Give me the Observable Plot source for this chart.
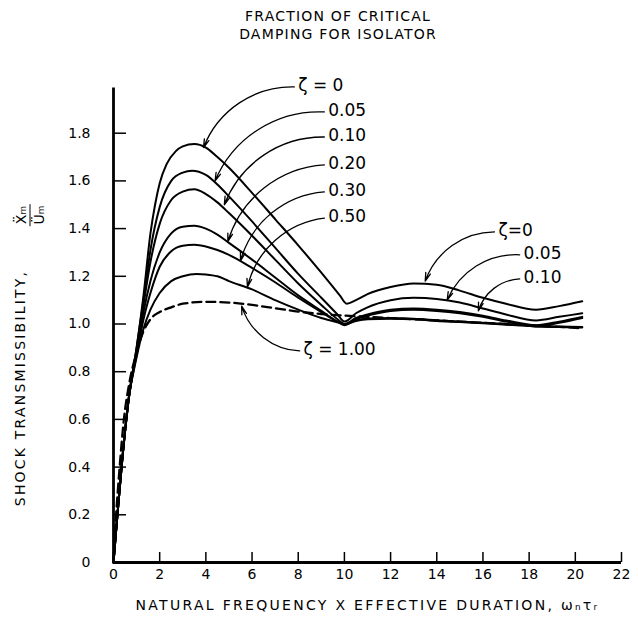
<!DOCTYPE html>
<html><head><meta charset="utf-8">
<script src="https://cdn.jsdelivr.net/npm/d3@7"></script>
<script src="https://cdn.jsdelivr.net/npm/@observablehq/plot@0.6"></script>
<style>
body{margin:0;background:#fff;}
#wrap{width:638px;height:618px;position:relative;overflow:hidden;background:#fff;font-family:"DejaVu Sans";color:#000;}
#title{position:absolute;left:0;top:7px;width:676px;text-align:center;font-size:14px;line-height:18px;letter-spacing:1.2px;}
#chart{position:absolute;left:0;top:45px;}
#ylab{position:absolute;left:20px;top:388px;transform:translate(-50%,-50%) rotate(-90deg);white-space:nowrap;font-size:14px;letter-spacing:2.2px;}
#yfrac{position:absolute;left:30px;top:215px;transform:translate(-50%,-50%) rotate(-90deg);white-space:nowrap;font-size:14px;text-align:center;line-height:15px;}
#yfrac .num{border-bottom:1.3px solid #000;padding:0 2px 1px 2px;}
#yfrac .den{padding-top:1px;}
</style></head><body>
<div id="wrap">
  <div id="title">FRACTION OF CRITICAL<br>DAMPING FOR ISOLATOR</div>
  <div id="chart"></div>
  <div id="ylab"></div>
  <div id="yfrac"><div class="num"></div><div class="den"></div></div>
</div>
<script>
// ---- data ----
const xTicks = [0, 2, 4, 6, 8, 10, 12, 14, 16, 18, 20, 22];
const yTicks = [0, 0.2, 0.4, 0.6, 0.8, 1.0, 1.2, 1.4, 1.6, 1.8];

const zetaNames = ["0", "0.05", "0.10", "0.20", "0.30", "0.50"];

const x_z0  = [0, 0.5, 0.65, 1.0, 1.3, 1.6, 1.8, 2.0, 2.3, 2.7, 3.0, 3.5, 4.0, 4.5, 5, 6, 7, 8, 9, 9.8, 10.1, 10.5, 11, 12, 13, 14, 15, 16, 17, 18.3, 19.3, 20.3];
const y_z0  = [0, 0.55, 0.68, 0.90, 1.12, 1.38, 1.50, 1.59, 1.67, 1.725, 1.745, 1.755, 1.74, 1.70, 1.655, 1.55, 1.44, 1.33, 1.215, 1.12, 1.085, 1.10, 1.125, 1.155, 1.17, 1.165, 1.14, 1.11, 1.085, 1.06, 1.075, 1.095];

const x_z05 = [0, 0.5, 0.65, 1.0, 1.3, 1.6, 2.0, 2.5, 3.0, 3.4, 4.0, 4.5, 5, 6, 7, 8, 9, 9.7, 10, 10.5, 11, 12, 13, 14, 15, 16, 17, 18.3, 19.3, 20.3];
const y_z05 = [0, 0.55, 0.68, 0.90, 1.10, 1.31, 1.49, 1.60, 1.635, 1.643, 1.625, 1.585, 1.535, 1.43, 1.32, 1.21, 1.11, 1.04, 1.01, 1.045, 1.07, 1.10, 1.11, 1.105, 1.09, 1.065, 1.04, 1.015, 1.03, 1.045];

const x_z10 = [0, 0.5, 0.65, 1.0, 1.3, 1.6, 2.0, 2.5, 3.0, 3.5, 4.0, 4.5, 5, 6, 7, 8, 9, 9.7, 10, 10.5, 11, 12, 13, 14, 15, 16, 17, 18.3, 19.3, 20.3];
const y_z10 = [0, 0.55, 0.68, 0.89, 1.08, 1.26, 1.42, 1.52, 1.555, 1.565, 1.545, 1.51, 1.465, 1.37, 1.27, 1.17, 1.08, 1.02, 1.0, 1.025, 1.04, 1.06, 1.065, 1.06, 1.05, 1.035, 1.015, 0.995, 1.01, 1.03];

const x_z20 = [0, 0.5, 0.65, 1.0, 1.3, 1.6, 2.0, 2.5, 3.0, 3.5, 4.0, 4.5, 5, 6, 7, 8, 9, 9.7, 10, 10.5, 11, 12, 13, 14, 15, 16, 17, 18.3, 19.3, 20.3];
const y_z20 = [0, 0.55, 0.68, 0.88, 1.05, 1.18, 1.30, 1.38, 1.408, 1.412, 1.40, 1.375, 1.34, 1.27, 1.195, 1.12, 1.055, 1.01, 0.995, 1.02, 1.035, 1.055, 1.06, 1.055, 1.045, 1.03, 1.01, 0.99, 1.005, 1.025];

const x_z30 = [0, 0.5, 0.65, 1.0, 1.3, 1.6, 2.0, 2.5, 3.0, 3.5, 4.0, 4.5, 5, 6, 7, 8, 9, 9.7, 10, 10.5, 11, 12, 13, 14, 15, 16, 17, 18.3, 19.3, 20.3];
const y_z30 = [0, 0.55, 0.68, 0.87, 1.02, 1.13, 1.24, 1.305, 1.328, 1.332, 1.325, 1.31, 1.29, 1.235, 1.175, 1.11, 1.05, 1.01, 0.998, 1.012, 1.02, 1.022, 1.02, 1.013, 1.008, 1.003, 0.997, 0.99, 0.987, 0.985];

const x_z50 = [0, 0.5, 0.65, 1.0, 1.3, 1.6, 2.0, 2.5, 3.0, 3.6, 4.0, 4.5, 5, 6, 7, 8, 9, 9.7, 10, 10.5, 11, 12, 13, 14, 15, 16, 17, 18.3, 19.3, 20.3];
const y_z50 = [0, 0.55, 0.68, 0.86, 0.98, 1.06, 1.13, 1.18, 1.20, 1.21, 1.208, 1.20, 1.18, 1.145, 1.10, 1.06, 1.025, 1.007, 1.0, 1.015, 1.023, 1.025, 1.022, 1.016, 1.01, 1.005, 1.0, 0.993, 0.99, 0.987];

const x_z100 = [0, 0.1, 0.25, 0.45, 0.7, 1.0, 1.3, 1.6, 2.0, 2.5, 3.0, 4.0, 5, 6, 7, 8, 9, 10, 11, 12, 13, 14, 15, 16, 17, 18, 19, 20.3];
const y_z100 = [0, 0.18, 0.38, 0.60, 0.76, 0.88, 0.97, 1.02, 1.05, 1.07, 1.085, 1.093, 1.09, 1.08, 1.066, 1.052, 1.042, 1.035, 1.03, 1.025, 1.02, 1.015, 1.01, 1.005, 1.0, 0.995, 0.99, 0.982];

// annotation labels (data coordinates)
const topLabels  = ["ζ = 0", "0.05", "0.10", "0.20", "0.30", "0.50"];
const topLabelX  = [8.0, 9.3, 9.3, 9.3, 9.3, 9.3];
const topLabelY  = [2.0, 1.895, 1.79, 1.673, 1.56, 1.45];
const topTargetX = [3.9, 4.4, 4.8, 4.95, 5.5, 5.8];
const topTargetY = [1.74, 1.60, 1.50, 1.345, 1.265, 1.155];

const rightLabels  = ["ζ=0", "0.05", "0.10"];
const rightLabelX  = [16.67, 17.76, 17.76];
const rightLabelY  = [1.392, 1.296, 1.195];
const rightTargetX = [13.5, 14.45, 15.8];
const rightTargetY = [1.18, 1.10, 1.055];

const dampLabels  = ["ζ = 1.00"];
const dampLabelX  = [8.23];
const dampLabelY  = [0.893];
const dampTargetX = [5.55];
const dampTargetY = [1.075];

const xTitle = "NATURAL FREQUENCY X EFFECTIVE DURATION, ωₙτᵣ";
const yTitle = "SHOCK TRANSMISSIBILITY,";
const yNum = "Ẍₘ";
const yDen = "Üₘ";

// ---- build tables ----
const solidSeries = [[x_z0, y_z0], [x_z05, y_z05], [x_z10, y_z10], [x_z20, y_z20], [x_z30, y_z30], [x_z50, y_z50]];
const solidRows = solidSeries.flatMap(([xs, ys], k) => xs.map((x, i) => ({zeta: zetaNames[k], x, y: ys[i]})));
const dashedRows = x_z100.map((x, i) => ({zeta: "1.00", x, y: y_z100[i]}));

const mkAnn = (labels, lx, ly, tx, ty) => labels.map((t, i) => ({t, lx: lx[i], ly: ly[i], sx: lx[i] - 0.17, sy: ly[i] - 0.006, tx: tx[i], ty: ty[i]}));
const topAnn = mkAnn(topLabels, topLabelX, topLabelY, topTargetX, topTargetY);
const rightAnn = mkAnn(rightLabels, rightLabelX, rightLabelY, rightTargetX, rightTargetY);
const dampAnn = mkAnn(dampLabels, dampLabelX, dampLabelY, dampTargetX, dampTargetY);

const arrowStyle = {x1: "sx", y1: "sy", x2: "tx", y2: "ty", headLength: 10, headAngle: 32, strokeWidth: 1.3, stroke: "#000"};

const chart = Plot.plot({
  width: 638, height: 573,
  marginLeft: 113, marginRight: 17, marginTop: 40, marginBottom: 56,
  x: {domain: [0, 22]},
  y: {domain: [0, 2]},
  style: {fontFamily: "DejaVu Sans", fontSize: "14px", color: "#000", background: "#fff"},
  marks: [
    Plot.axisY({ticks: yTicks, tickSize: -13, tickPadding: 36, strokeWidth: 1.5, tickFormat: d => d === 0 ? "0" : d.toFixed(1), label: null, fontSize: 14}),
    Plot.axisX({ticks: xTicks, tickSize: -10, tickPadding: 17, strokeWidth: 1.5, tickFormat: d => String(d), label: null, fontSize: 14}),
    Plot.ruleX([0], {y1: 0, y2: 1.99, strokeWidth: 2.8}),
    Plot.ruleY([0], {x1: 0, x2: 22, strokeWidth: 2.8}),
    Plot.line(solidRows, {x: "x", y: "y", z: "zeta", curve: "monotone-x", stroke: "#000", strokeWidth: 2}),
    Plot.line(dashedRows, {x: "x", y: "y", curve: "monotone-x", stroke: "#000", strokeWidth: 2.3, strokeDasharray: "9,5"}),
    Plot.arrow(topAnn, {...arrowStyle, bend: -35}),
    Plot.arrow(rightAnn, {...arrowStyle, bend: -35}),
    Plot.arrow(dampAnn, {...arrowStyle, bend: 35}),
    Plot.text([...topAnn, ...rightAnn, ...dampAnn], {x: "lx", y: "ly", text: "t", textAnchor: "start", lineAnchor: "middle", fontSize: 17, fill: "#000"}),
    Plot.text([xTitle], {frameAnchor: "bottom", dy: 43, lineAnchor: "middle", fontSize: 14, fill: "#000"})
  ]
});
d3.select(chart).selectAll("text").filter(function() { return this.textContent === xTitle; }).attr("letter-spacing", "2.3px");
document.getElementById("chart").appendChild(chart);
document.getElementById("ylab").textContent = yTitle;
document.querySelector("#yfrac .num").textContent = yNum;
document.querySelector("#yfrac .den").textContent = yDen;
</script>
</body></html>
